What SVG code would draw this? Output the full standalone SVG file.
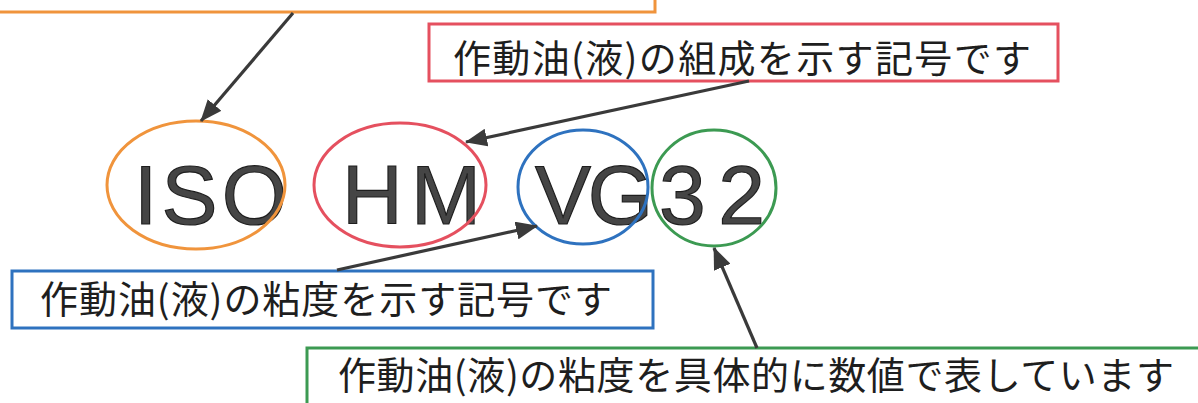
<svg xmlns="http://www.w3.org/2000/svg" width="1198" height="403" viewBox="0 0 1198 403">
<defs>
<style>
.jp{font-family:"Noto Sans CJK JP","Noto Sans CJK SC",sans-serif;font-size:38px;fill:#1e1e1e}
.big{font-family:"Liberation Sans",Arial,sans-serif;font-size:84px;fill:#454545;stroke:#1e1e1e;stroke-width:1.2}
.box{fill:#ffffff;stroke-width:3}
.ring{fill:none;stroke-width:3}
.conn{stroke:#3a3a3a;stroke-width:3.2;fill:none;marker-end:url(#ah)}
</style>
<marker id="ah" markerWidth="22" markerHeight="18" refX="21" refY="9" orient="auto" markerUnits="userSpaceOnUse">
<path d="M0,0 L22,9 L0,18 z" fill="#3a3a3a"/>
</marker>
</defs>
<rect width="1198" height="403" fill="#ffffff"/>

<g id="box-iso">
<rect class="box" x="-10" y="-10" width="665" height="22" stroke="#f0943c"/>
</g>
<g id="box-hm">
<rect class="box" x="429" y="24" width="629" height="57" stroke="#e5505f"/>
<text class="jp" x="453" y="72" textLength="578" lengthAdjust="spacing">作動油(液)の組成を示す記号です</text>
</g>
<g id="box-vg">
<rect class="box" x="12" y="271" width="641" height="57" stroke="#2e72bf"/>
<text class="jp" x="40" y="313" textLength="572" lengthAdjust="spacing">作動油(液)の粘度を示す記号です</text>
</g>
<g id="box-32">
<rect class="box" x="307" y="348" width="900" height="70" stroke="#3c9a52"/>
<text class="jp" x="338" y="389" textLength="836" lengthAdjust="spacing">作動油(液)の粘度を具体的に数値で表しています</text>
</g>

<g id="node-iso">
<text class="big" x="134" y="224" textLength="153" lengthAdjust="spacing">ISO</text>
<ellipse class="ring" cx="196" cy="185" rx="89" ry="64" stroke="#f0943c"/>
</g>
<g id="node-hm">
<text class="big" x="342" y="224" textLength="139" lengthAdjust="spacing">HM</text>
<ellipse class="ring" cx="400" cy="185" rx="86" ry="62" stroke="#e5505f"/>
</g>
<g id="node-vg">
<text class="big" x="535" y="224" textLength="118" lengthAdjust="spacing">VG</text>
<ellipse class="ring" cx="583" cy="187" rx="65" ry="57" stroke="#2e72bf"/>
</g>
<g id="node-32">
<text class="big" x="659" y="224" textLength="106" lengthAdjust="spacing">32</text>
<ellipse class="ring" cx="714" cy="188" rx="62" ry="58" stroke="#3c9a52"/>
</g>

<g id="connectors">
<line class="conn" x1="293" y1="13" x2="201" y2="121"/>
<line class="conn" x1="749" y1="81" x2="466" y2="142"/>
<line class="conn" x1="337" y1="270" x2="537" y2="226"/>
<line class="conn" x1="757" y1="348" x2="714" y2="248"/>
</g>
</svg>
